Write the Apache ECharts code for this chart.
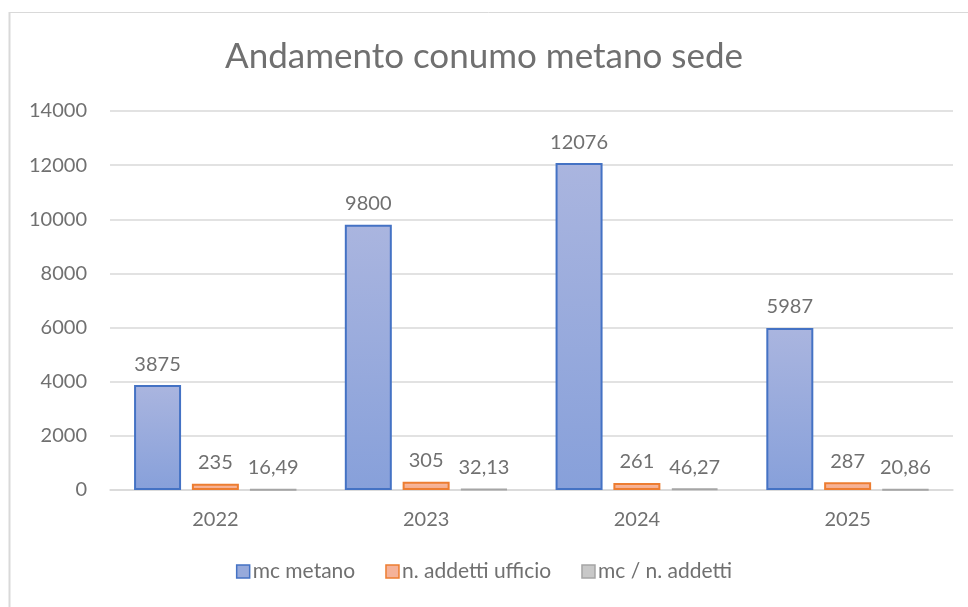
<!DOCTYPE html>
<html>
<head>
<meta charset="utf-8">
<script src="https://cdn.jsdelivr.net/npm/echarts@6/dist/echarts.min.js"></script>
<style>
html,body{margin:0;padding:0;background:#fff;}
#c{width:968px;height:607px;}
</style>
</head>
<body>
<div id="c"></div>
<script>
var categories = ['2022', '2023', '2024', '2025'];
var mcMetano = [3875, 9800, 12076, 5987];
var addetti = [235, 305, 261, 287];
var mcPerAddetto = [16.49, 32.13, 46.27, 20.86];
var seriesNames = ['mc metano', 'n. addetti ufficio', 'mc / n. addetti'];
var titleText = 'Andamento conumo metano sede';

var FONT = 'Lato';
var TXT = '#707070';

function grad(top, bottom) {
  return new echarts.graphic.LinearGradient(0, 0, 0, 1, [
    {offset: 0, color: top}, {offset: 1, color: bottom}
  ]);
}
var styles = [
  {fill: grad('#AAB5DF', '#87A0DA'), border: '#4472C4', legendFill: '#97AADB'},
  {fill: grad('#F8BBA4', '#F4A886'), border: '#ED7D31', legendFill: '#F5B299'},
  {fill: grad('#D2D2D2', '#C2C2C2'), border: '#A5A5A5', legendFill: '#C8C8C8'}
];
var datasets = [mcMetano, addetti, mcPerAddetto];

var series = datasets.map(function (d, i) {
  return {
    name: seriesNames[i],
    type: 'bar',
    data: d,
    barWidth: 47,
    barGap: '23%',
    itemStyle: {color: styles[i].fill, borderColor: styles[i].border, borderWidth: 2},
    label: {
      show: true, position: 'top', distance: 11,
      fontFamily: FONT, fontSize: 20, color: TXT,
      formatter: function (p) { return String(p.value).replace('.', ','); }
    }
  };
});

var chart = echarts.init(document.getElementById('c'), null, {renderer: 'canvas'});
chart.setOption({
  backgroundColor: '#fff',
  animation: false,
  title: {
    text: titleText, left: 'center', top: 34,
    textStyle: {fontFamily: FONT, fontSize: 35, fontWeight: 'normal', color: TXT}
  },
  graphic: [
    {type: 'line', shape: {x1: 9.5, y1: 12, x2: 9.5, y2: 607}, style: {stroke: '#D9D9D9', lineWidth: 2}},
    {type: 'line', shape: {x1: 9, y1: 12.5, x2: 968, y2: 12.5}, style: {stroke: '#D9D9D9', lineWidth: 1}}
  ],
  legend: {
    bottom: 20, left: 'center',
    itemWidth: 13, itemHeight: 13, itemGap: 30,
    icon: 'rect',
    textStyle: {fontFamily: FONT, fontSize: 21, color: TXT, padding: [0, 0, 0, -2]},
    data: seriesNames.map(function (n, i) {
      return {name: n, itemStyle: {color: styles[i].legendFill, borderColor: styles[i].border, borderWidth: 1.5}};
    })
  },
  grid: {left: 110, right: 15, top: 111, bottom: 117, containLabel: false},
  xAxis: {
    type: 'category', data: categories,
    axisLine: {lineStyle: {color: '#D9D9D9', width: 1.5}},
    axisTick: {show: false},
    axisLabel: {fontFamily: FONT, fontSize: 20, color: TXT, margin: 20}
  },
  yAxis: {
    type: 'value', min: 0, max: 14000, interval: 2000,
    axisLine: {show: false}, axisTick: {show: false},
    splitLine: {lineStyle: {color: '#D9D9D9', width: 1.5}},
    axisLabel: {fontFamily: FONT, fontSize: 20, color: TXT, margin: 23,
      formatter: function (v) { return String(v); }}
  },
  series: series
});
</script>
</body>
</html>
